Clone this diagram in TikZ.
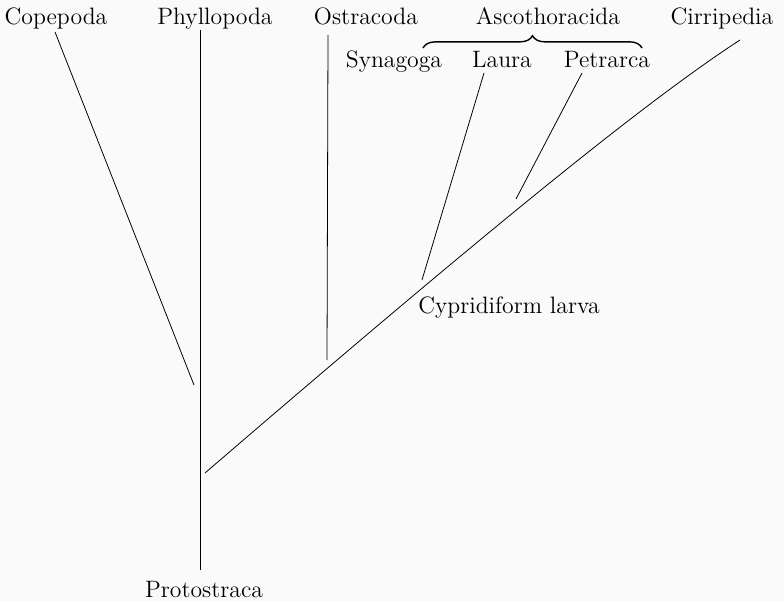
\documentclass[tikz,border=0pt]{standalone}
\usepackage{amsmath,amssymb}
\usepackage{tikz}
\usetikzlibrary{decorations.pathreplacing}

\begin{document}
\begin{tikzpicture}[x=0.02cm, y=-0.02cm,
	every node/.style={font=\fontsize{13.5}{16}\selectfont, anchor=base, inner sep=0pt},
	branch/.style={line width=0.45pt}]
	\fill[black!2] (0,0) rectangle (784,601);
	\useasboundingbox (0,0) rectangle (784,601);
	\node (cope) at (56,25) {Copepoda};
	\node (phyl) at (215,25) {Phyllopoda};
	\node (ostr) at (366,25) {Ostracoda};
	\node (asco) at (548,25) {Ascothoracida};
	\node (cirr) at (722,25) {Cirripedia};
	\node (syna) at (394,68) {Synagoga};
	\node (laur) at (502,68) {Laura};
	\node (petr) at (607,68) {Petrarca};
	\node (cypr) at (509,313) {Cypridiform larva};
	\node (prot) at (204,597) {Protostraca};
	\coordinate (copeTop) at (55,32);
	\coordinate (copeEnd) at (194,385);
	\coordinate (phylTop) at (200,30);
	\coordinate (root) at (200,570);
	\coordinate (ostrTop) at (328,35);
	\coordinate (ostrEnd) at (327,360);
	\coordinate (laurTop) at (484,73);
	\coordinate (laurEnd) at (422,280);
	\coordinate (petrTop) at (582,73);
	\coordinate (petrEnd) at (516,199);
	\coordinate (cirrTop) at (740,40);
	\coordinate (cirrEnd) at (205,473);
	\draw[branch] (phylTop) -- (root);
	\draw[branch] (copeTop) -- (copeEnd);
	\draw[branch] (ostrTop) -- (ostrEnd);
	\draw[branch] (laurTop) -- (laurEnd);
	\draw[branch] (petrTop) -- (petrEnd);
	\draw[branch] (cirrEnd) .. controls (470,245) and (640,105) .. (cirrTop);
	\draw[line width=0.8pt, decorate, decoration={brace, amplitude=7pt}] (423,48) -- (642,48);
\end{tikzpicture}
\end{document}
